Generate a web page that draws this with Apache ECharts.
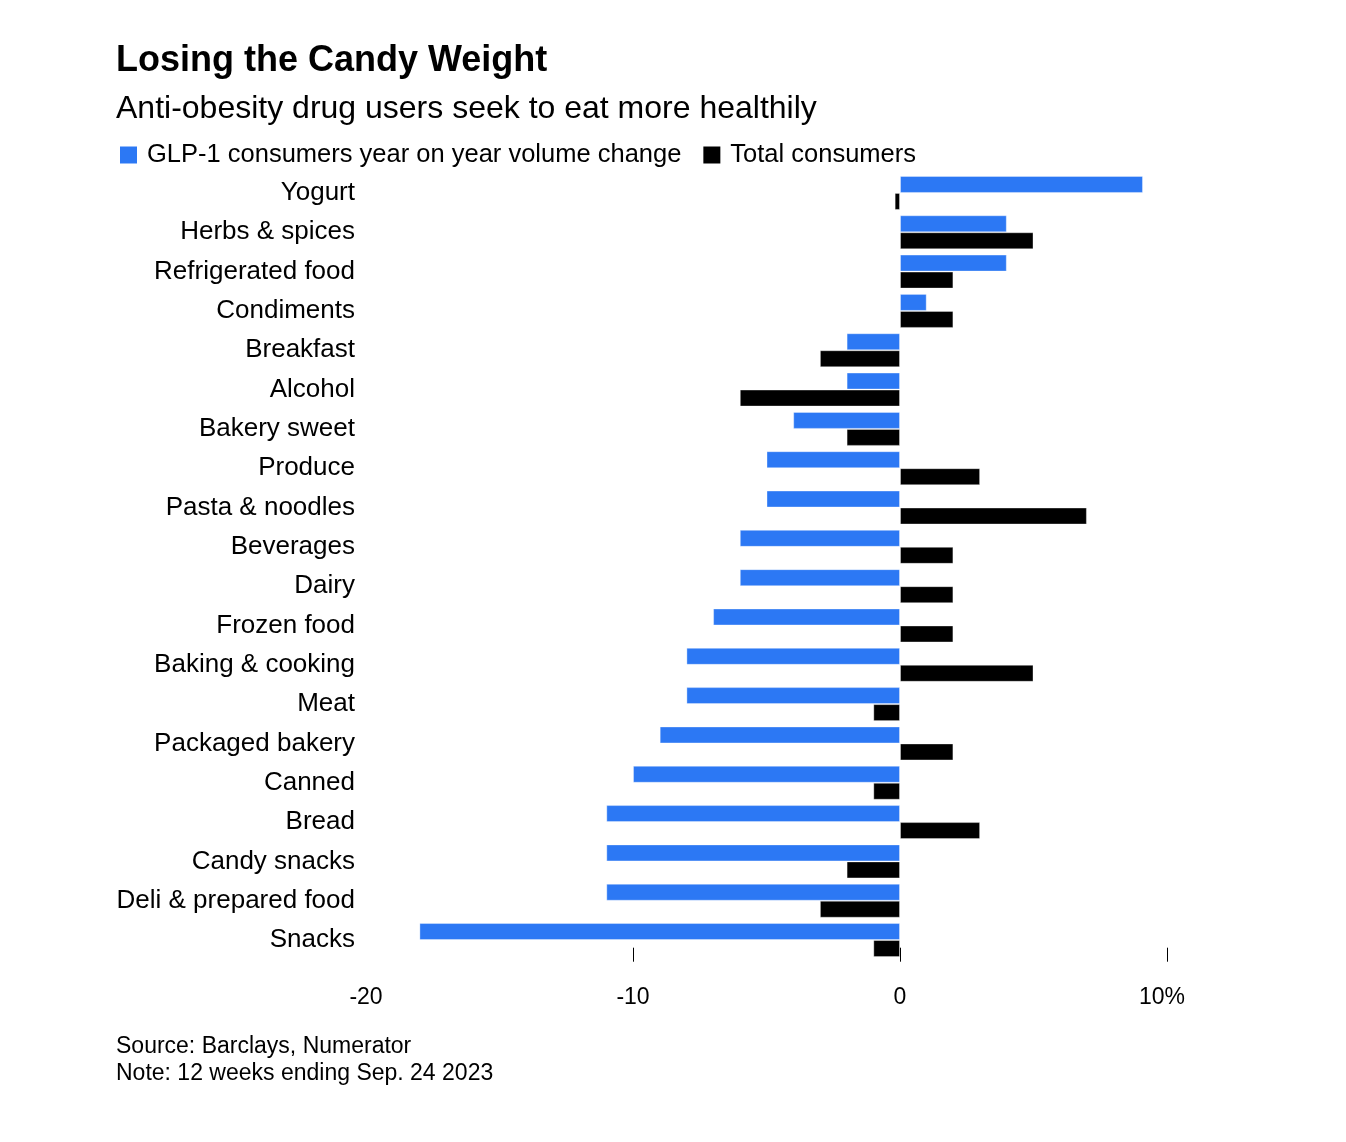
<!DOCTYPE html>
<html>
<head>
<meta charset="utf-8">
<script src="https://cdn.jsdelivr.net/npm/echarts@6/dist/echarts.min.js"></script>
<style>
html,body{margin:0;padding:0;background:#fff;}
#chart{width:1346px;height:1142px;}
</style>
</head>
<body>
<div id="chart"></div>
<script>
const categories = ["Yogurt","Herbs & spices","Refrigerated food","Condiments","Breakfast","Alcohol","Bakery sweet","Produce","Pasta & noodles","Beverages","Dairy","Frozen food","Baking & cooking","Meat","Packaged bakery","Canned","Bread","Candy snacks","Deli & prepared food","Snacks"];
const glp1 = [9.1,4,4,1,-2,-2,-4,-5,-5,-6,-6,-7,-8,-8,-9,-10,-11,-11,-11,-18];
const total = [-0.2,5,2,2,-3,-6,-2,3,7,2,2,2,5,-1,2,-1,3,-2,-3,-1];
const tickValues = [-10,0,10];
const labelValues = [-20,-10,0,10];
const seriesNames = ["GLP-1 consumers year on year volume change","Total consumers"];

const FONT = '"Liberation Sans", Arial, Helvetica, sans-serif';
const chart = echarts.init(document.getElementById('chart'), null, {renderer:'canvas'});
chart.setOption({
  animation:false,
  backgroundColor:'#fff',
  textStyle:{fontFamily:FONT,color:'#000'},
  title:[
    {text:'Losing the Candy Weight',left:111,top:38,textStyle:{fontFamily:FONT,fontSize:36,fontWeight:'bold',color:'#000'}},
    {text:'Anti-obesity drug users seek to eat more healthily',left:111,top:88,textStyle:{fontFamily:FONT,fontSize:32,fontWeight:'normal',color:'#000'}},
    {text:'Source: Barclays, Numerator\nNote: 12 weeks ending Sep. 24 2023',left:111,top:1028,textStyle:{fontFamily:FONT,fontSize:23,lineHeight:27,fontWeight:'normal',color:'#000'}}
  ],
  legend:{
    left:115,top:137,itemWidth:17,itemHeight:17,itemGap:22,icon:'rect',
    itemStyle:{borderWidth:0},
    textStyle:{fontFamily:FONT,fontSize:25.5,color:'#000',padding:[0,0,0,5]},
    data:seriesNames
  },
  grid:{left:366,right:179,top:173.3,bottom:182.3,containLabel:false},
  xAxis:{
    type:'value',min:-20,max:10,interval:10,position:'bottom',offset:-12,
    axisLine:{show:false},
    splitLine:{show:false},
    axisTick:{show:true,length:14,customValues:tickValues,lineStyle:{color:'#000',width:1}},
    axisLabel:{customValues:labelValues,margin:38,fontFamily:FONT,fontSize:23,color:'#000',
      formatter:function(v){return v===10?'{p|10%}':String(v);},
      rich:{p:{fontFamily:FONT,fontSize:23,color:'#000',padding:[0,10,0,0]}}}
  },
  yAxis:{
    type:'category',data:categories,inverse:true,
    axisLine:{show:false},axisTick:{show:false},splitLine:{show:false},
    axisLabel:{margin:11,fontFamily:FONT,fontSize:26,color:'#000'}
  },
  series:[
    {name:seriesNames[0],type:'bar',data:glp1,barWidth:17,barGap:'0%',
     itemStyle:{color:'#2c78f4',borderColor:'rgba(255,255,255,0.35)',borderWidth:1}},
    {name:seriesNames[1],type:'bar',data:total,barWidth:17,barGap:'0%',
     itemStyle:{color:'#000',borderColor:'rgba(255,255,255,0.35)',borderWidth:1}}
  ]
});
</script>
</body>
</html>
